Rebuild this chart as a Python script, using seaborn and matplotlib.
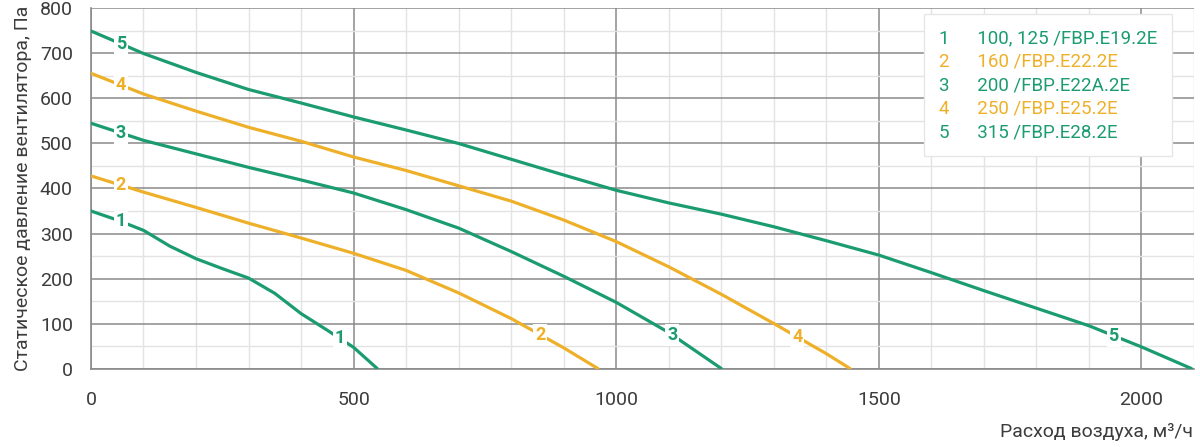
import numpy as np
import pandas as pd
import matplotlib.pyplot as plt
import seaborn as sns
from matplotlib.lines import Line2D
from matplotlib.ticker import MultipleLocator

# Fan curves: air flow (m3/h) vs static pressure (Pa)
X1 = [0, 50, 100, 150, 200, 250, 300, 350, 400, 450, 500, 545]
Y1 = [350, 330, 307, 272, 244, 222, 201, 167, 122, 85, 47, 0]
X2 = [0, 100, 200, 300, 400, 500, 600, 700, 800, 900, 965]
Y2 = [428, 392, 358, 323, 290, 256, 218, 168, 111, 46, 0]
X3 = [0, 100, 200, 300, 400, 500, 600, 700, 800, 900, 1000, 1100, 1200]
Y3 = [545, 507, 477, 447, 419, 390, 353, 312, 260, 205, 147, 80, 0]
X4 = [0, 100, 200, 300, 400, 500, 600, 700, 800, 900, 1000, 1100, 1200, 1300, 1400, 1445]
Y4 = [656, 610, 572, 536, 505, 470, 440, 406, 372, 330, 282, 226, 165, 100, 33, 0]
X5 = [0, 100, 200, 300, 400, 500, 600, 700, 800, 900, 1000, 1100, 1200, 1300,
      1400, 1500, 1600, 1700, 1800, 1900, 2000, 2095]
Y5 = [750, 700, 658, 620, 590, 559, 530, 500, 465, 430, 396, 368, 343, 315,
      284, 252, 213, 173, 134, 95, 48, 0]

CURVE_IDS = ['1', '2', '3', '4', '5']
LEGEND_TEXT = ['100, 125 /FBP.E19.2E', '160 /FBP.E22.2E', '200 /FBP.E22A.2E',
               '250 /FBP.E25.2E', '315 /FBP.E28.2E']
# where the numbers sit on each curve (x positions)
LABEL_X = [(57, 474), (57, 855), (57, 1107), (57, 1345), (57, 1947)]

GREEN = '#1b9c70'
YELLOW = '#efb029'
COLORS = [GREEN, YELLOW, GREEN, YELLOW, GREEN]

curves = [(X1, Y1), (X2, Y2), (X3, Y3), (X4, Y4), (X5, Y5)]
df = pd.concat([pd.DataFrame({'flow': xs, 'pressure': ys, 'curve': cid})
                for cid, (xs, ys) in zip(CURVE_IDS, curves)], ignore_index=True)

sns.set_style('white')
plt.rcParams['font.family'] = ['Roboto', 'DejaVu Sans']

fig = plt.figure(figsize=(12, 4.47), dpi=100)
ax = fig.add_axes([0.0758, 0.1756, 0.9192, 0.8054])

sns.lineplot(data=df, x='flow', y='pressure', hue='curve', palette=dict(zip(CURVE_IDS, COLORS)),
             legend=False, linewidth=2.3, ax=ax, sort=False, zorder=3)

# numbers on the curves
for cid, (xs, ys), pos, col in zip(CURVE_IDS, curves, LABEL_X, COLORS):
    for lx in pos:
        ly = np.interp(lx, xs, ys)
        ax.text(lx, ly, cid, color=col, fontsize=13, fontweight='bold',
                ha='center', va='center', zorder=4,
                bbox=dict(boxstyle='square,pad=0.1', fc='white', ec='none'))

ax.set_xlim(0, 2100)
ax.set_ylim(0, 800)
ax.xaxis.set_major_locator(MultipleLocator(500))
ax.xaxis.set_minor_locator(MultipleLocator(100))
ax.yaxis.set_major_locator(MultipleLocator(100))
ax.yaxis.set_minor_locator(MultipleLocator(50))
ax.grid(which='major', color='#8a8a8a', lw=1.1)
ax.grid(which='minor', color='#e3e3e3', lw=1.0)
ax.set_axisbelow(True)

for s in ['top', 'right']:
    ax.spines[s].set_visible(False)
for s in ['left', 'bottom']:
    ax.spines[s].set_color('#8a8a8a')
    ax.spines[s].set_linewidth(1.2)

ax.tick_params(which='major', axis='x', length=9, color='#8a8a8a', pad=7,
               labelsize=14, labelcolor='#3c3c3c')
ax.tick_params(which='major', axis='y', length=9, color='#8a8a8a', pad=4,
               labelsize=14, labelcolor='#3c3c3c')
ax.tick_params(which='minor', length=0)

ax.set_xlabel('')
fig.text(1193 / 1200, 1 - 432 / 447, 'Расход воздуха, м³/ч', fontsize=14,
         color='#3c3c3c', ha='right', va='center')
ax.set_ylabel('Статическое давление вентилятора, Па', fontsize=14, color='#3c3c3c', labelpad=6)

handles = [Line2D([], [], alpha=0) for _ in CURVE_IDS]
labels = [f'{cid}      {txt}' for cid, txt in zip(CURVE_IDS, LEGEND_TEXT)]
leg = ax.legend(handles, labels, loc='upper right', bbox_to_anchor=(0.98, 0.985),
                handlelength=0, handletextpad=0, fontsize=13.5, labelcolor=COLORS,
                frameon=True, fancybox=False, edgecolor='#e6e6e6', framealpha=1,
                borderpad=0.8, labelspacing=0.3, borderaxespad=0)
leg.set_zorder(5)

fig.savefig('out.png', dpi=100)
